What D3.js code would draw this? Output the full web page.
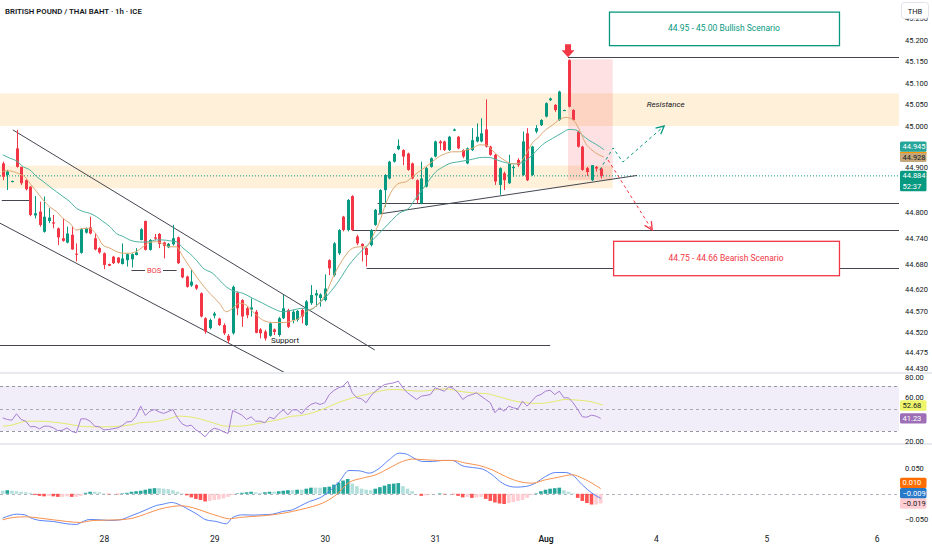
<!DOCTYPE html>
<html>
<head>
<meta charset="utf-8">
<script src="https://cdnjs.cloudflare.com/ajax/libs/d3/7.8.5/d3.min.js"></script>
<style>
body{margin:0;background:#fff}
svg{display:block;font-family:Roboto,"Noto Sans",sans-serif}
</style>
</head>
<body>
<div id="chart"></div>
<script>
// hourly candles, [open, high, low, close]
const candles = [
[44.913,44.917,44.874,44.882],[44.886,44.898,44.851,44.894],[44.871,44.873,44.869,44.872],[44.948,44.991,44.903,44.905],
[44.905,44.905,44.863,44.867],[44.874,44.876,44.850,44.853],[44.859,44.860,44.790,44.793],[44.792,44.837,44.785,44.797],
[44.801,44.824,44.766,44.770],[44.754,44.836,44.752,44.789],[44.779,44.809,44.774,44.787],[44.776,44.793,44.762,44.773],
[44.762,44.764,44.723,44.741],[44.739,44.785,44.731,44.733],[44.729,44.766,44.727,44.750],[44.747,44.766,44.712,44.713],
[44.703,44.727,44.685,44.701],[44.705,44.762,44.703,44.760],[44.752,44.764,44.750,44.762],[44.764,44.789,44.748,44.750],
[44.739,44.750,44.711,44.713],[44.716,44.718,44.703,44.706],[44.704,44.706,44.667,44.677],[44.679,44.680,44.674,44.675],
[44.696,44.698,44.679,44.681],[44.694,44.695,44.680,44.682],[44.679,44.727,44.678,44.692],[44.688,44.704,44.673,44.702],
[44.690,44.704,44.671,44.702],[44.700,44.716,44.699,44.706],[44.735,44.762,44.734,44.760],[44.779,44.780,44.711,44.712],
[44.712,44.737,44.710,44.735],[44.741,44.749,44.735,44.738],[44.749,44.751,44.716,44.726],[44.729,44.731,44.692,44.721],
[44.718,44.728,44.716,44.726],[44.725,44.770,44.722,44.739],[44.741,44.743,44.679,44.681],[44.669,44.670,44.646,44.648],
[44.650,44.652,44.624,44.626],[44.629,44.665,44.626,44.638],[44.630,44.632,44.619,44.622],[44.611,44.613,44.555,44.557],
[44.553,44.555,44.517,44.522],[44.530,44.552,44.527,44.549],[44.559,44.568,44.553,44.564],[44.552,44.554,44.535,44.537],
[44.537,44.541,44.514,44.518],[44.512,44.516,44.495,44.501],[44.518,44.629,44.515,44.626],[44.612,44.615,44.560,44.576],
[44.595,44.597,44.533,44.557],[44.576,44.580,44.553,44.560],[44.573,44.599,44.557,44.578],[44.568,44.572,44.518,44.519],
[44.527,44.530,44.506,44.518],[44.522,44.526,44.501,44.506],[44.512,44.543,44.510,44.541],[44.527,44.529,44.514,44.521],
[44.514,44.556,44.510,44.553],[44.553,44.607,44.551,44.576],[44.572,44.575,44.530,44.533],[44.549,44.572,44.541,44.568],
[44.549,44.572,44.545,44.570],[44.572,44.576,44.541,44.557],[44.537,44.595,44.535,44.592],[44.588,44.630,44.584,44.607],
[44.606,44.619,44.580,44.611],[44.600,44.611,44.580,44.608],[44.595,44.655,44.592,44.622],[44.688,44.690,44.653,44.669],
[44.653,44.730,44.650,44.727],[44.704,44.760,44.700,44.758],[44.789,44.791,44.755,44.758],[44.758,44.830,44.755,44.828],
[44.837,44.839,44.756,44.758],[44.743,44.747,44.723,44.727],[44.726,44.727,44.685,44.721],[44.716,44.718,44.673,44.700],
[44.723,44.760,44.720,44.758],[44.770,44.807,44.768,44.805],[44.797,44.853,44.795,44.851],[44.851,44.888,44.812,44.886],
[44.878,44.919,44.876,44.917],[44.917,44.937,44.915,44.935],[44.946,44.969,44.944,44.954],[44.944,44.946,44.909,44.929],
[44.936,44.938,44.896,44.898],[44.913,44.915,44.876,44.878],[44.874,44.876,44.820,44.828],[44.820,44.917,44.818,44.878],
[44.859,44.905,44.857,44.902],[44.905,44.927,44.903,44.925],[44.929,44.966,44.927,44.964],[44.964,44.967,44.944,44.960],
[44.964,44.966,44.942,44.944],[44.944,44.977,44.942,44.975],[44.989,44.994,44.988,44.992],[44.975,44.977,44.946,44.948],
[44.944,44.946,44.925,44.929],[44.913,44.950,44.911,44.948],[44.944,44.995,44.942,44.967],[44.964,45.006,44.962,44.975],
[44.964,45.018,44.962,44.983],[44.992,45.062,44.950,44.952],[44.952,44.954,44.931,44.933],[44.933,44.935,44.863,44.871],
[44.863,44.904,44.840,44.902],[44.890,44.894,44.851,44.874],[44.867,44.933,44.865,44.913],[44.902,44.909,44.882,44.905],
[44.921,44.925,44.905,44.909],[44.886,44.987,44.884,44.964],[44.983,44.995,44.872,44.874],[44.886,44.954,44.884,44.952],
[44.987,45.002,44.983,44.995],[45.002,45.016,45.000,45.014],[45.022,45.055,45.020,45.053],[45.060,45.066,45.058,45.064],
[45.049,45.051,45.033,45.037],[45.014,45.082,45.012,45.080],[45.036,45.038,45.035,45.037],[45.153,45.155,45.043,45.045],
[45.037,45.039,45.012,45.014],[44.987,44.989,44.950,44.952],[44.952,44.954,44.896,44.898],[44.902,44.905,44.884,44.893],
[44.874,44.909,44.872,44.909],[44.905,44.907,44.894,44.901],[44.901,44.903,44.878,44.884]
];

// moving averages, [bar, price]
const maFast = [[0,44.894],[0.8,44.896],[2.3,44.894],[3.7,44.888],[4.8,44.882],[5.9,44.867],[7.4,44.847],[8.8,44.828],[10.2,44.812],[11.7,44.801],[13.1,44.785],[14.6,44.774],[16,44.758],[17.5,44.762],[18.9,44.762],[20.4,44.747],[21.8,44.723],[23.3,44.716],[24.7,44.708],[26.2,44.704],[27.6,44.704],[29,44.708],[30.5,44.719],[31.9,44.729],[33.4,44.731],[34.8,44.726],[36.3,44.719],[37.7,44.719],[39.2,44.696],[40.6,44.673],[42.1,44.650],[43.5,44.630],[45,44.611],[47.1,44.588],[48.6,44.568],[50,44.576],[51.5,44.588],[52.9,44.584],[54.4,44.568],[56.5,44.549],[58.7,44.543],[60.9,44.543],[63,44.547],[64.5,44.553],[65.9,44.568],[67.4,44.576],[68.8,44.588],[70.3,44.611],[71.7,44.646],[73.2,44.677],[74.6,44.700],[76.1,44.716],[77.5,44.719],[79,44.719],[80.4,44.743],[81.8,44.774],[83.3,44.820],[84.7,44.851],[86.2,44.867],[87.6,44.870],[89.1,44.882],[90.5,44.894],[92,44.905],[93.4,44.917],[94.9,44.929],[96.3,44.936],[97.8,44.940],[99.2,44.940],[100.7,44.944],[102.1,44.948],[103.6,44.956],[105,44.956],[106.4,44.944],[107.9,44.929],[109.3,44.919],[110.8,44.912],[112.2,44.913],[113.7,44.933],[115.1,44.960],[116.6,44.975],[118,44.991],[119.5,45.002],[120.9,45.014],[122.4,45.020],[123.8,45.016],[125.2,44.995],[126.7,44.960],[128.1,44.944],[129.6,44.933],[130.7,44.928]];
const maSlow = [[0,44.933],[1.6,44.925],[3,44.919],[4.5,44.905],[5.9,44.898],[7.4,44.882],[8.8,44.871],[10.2,44.859],[11.7,44.847],[13.1,44.836],[14.6,44.824],[16,44.809],[17.5,44.801],[18.9,44.797],[20.4,44.789],[21.8,44.778],[23.3,44.766],[24.7,44.750],[26.2,44.743],[27.6,44.735],[29,44.731],[30.5,44.730],[31.9,44.731],[33.4,44.735],[34.8,44.735],[36.3,44.733],[37.7,44.731],[39.2,44.716],[40.6,44.704],[42.1,44.688],[43.5,44.670],[45.7,44.657],[47.1,44.642],[48.6,44.626],[50,44.617],[52.2,44.611],[54.4,44.599],[56.5,44.588],[58.7,44.576],[60.9,44.568],[63,44.572],[65.2,44.576],[66.7,44.572],[68.8,44.588],[71,44.611],[73.2,44.642],[75.3,44.677],[77.5,44.704],[79.7,44.727],[81.8,44.750],[84,44.774],[86.2,44.797],[88.4,44.810],[89.8,44.832],[91.3,44.853],[92.7,44.874],[94.2,44.894],[95.6,44.904],[97,44.912],[99.2,44.917],[101.4,44.921],[104.3,44.927],[105.7,44.927],[107.2,44.922],[108.6,44.917],[110.1,44.913],[111.5,44.912],[113,44.915],[114.4,44.925],[115.8,44.940],[117.3,44.956],[119.5,44.971],[121.6,44.984],[123.1,44.992],[124.5,44.991],[126,44.979],[127.4,44.967],[128.9,44.958],[130.7,44.945]];

// RSI pane
const rsiLine = [[0,41.7],[1,40.2],[2,39.6],[3,45.3],[4,40.2],[5,38.7],[6,33.7],[7,34.0],[8,31.9],[9,34.3],[10,34.3],[11,32.8],[12,30.2],[13,30.7],[14,32.8],[15,29.6],[16,28.4],[17,40.8],[18,40.8],[19,38.7],[20,34.3],[21,33.7],[22,31.0],[23,31.3],[25,32.8],[26,34.9],[27,38.1],[28,38.4],[29,43.2],[30,52.1],[31,43.8],[32,47.6],[33,49.1],[34,47.0],[35,45.6],[37,49.1],[38,41.7],[39,36.4],[40,34.3],[41,35.2],[42,31.0],[43,28.4],[44,24.8],[45,29.9],[46,32.5],[47,31.3],[48,29.3],[49,27.8],[50,48.2],[51,46.2],[52,44.1],[53,40.2],[54,42.6],[55,38.7],[56,38.7],[57,37.3],[58,42.3],[59,40.8],[60,45.6],[61,48.8],[62,44.4],[63,48.8],[64,48.8],[65,45.3],[66,50.5],[67,53.6],[68,55.1],[69,53.6],[70,55.1],[71,62.4],[72,66.0],[73,68.4],[74,69.9],[75,74.3],[76,63.9],[77,59.5],[78,58.6],[79,55.1],[80,61.0],[81,65.4],[82,68.4],[83,71.3],[85,72.8],[86,74.3],[87,68.4],[88,63.9],[90,58.0],[91,61.0],[93,62.4],[94,68.4],[95,66.9],[96,65.4],[97,69.3],[98,67.8],[99,63.9],[100,58.0],[101,61.0],[102,62.4],[103,63.9],[105,58.0],[106,55.1],[107,46.2],[108,50.6],[109,47.6],[110,52.1],[111,50.6],[112,49.7],[113,56.5],[114,52.1],[115,56.5],[116,61.0],[117,62.4],[118,65.4],[119,66.3],[120,62.4],[121,65.4],[122,59.5],[123,59.5],[124,55.1],[125,49.1],[126,42.6],[127,42.3],[128,44.1],[129,43.2],[130,41.2]];
const rsiMa = [[0,34.3],[1.6,34.9],[3.7,37.3],[5.2,38.7],[8.1,38.7],[11,37.9],[13.9,36.4],[16.8,34.3],[19.6,33.7],[22.5,33.7],[25.4,34.3],[28.3,35.8],[29.8,37.3],[32.7,38.1],[35.6,40.2],[38.4,43.2],[40.6,42.6],[42.8,40.8],[45.7,37.3],[48.6,34.3],[51.5,34.3],[54.4,35.8],[57.2,37.9],[60.1,40.2],[63,43.2],[64.5,43.6],[67.4,46.2],[70.3,50.6],[73.2,55.6],[76.1,59.5],[79,62.4],[81.9,65.4],[84.7,66.9],[87.6,66.3],[90.5,65.4],[93.4,66.3],[96.3,67.5],[99.2,65.4],[102.1,63.9],[105,63.3],[107.9,60.4],[110.8,57.1],[113.7,55.1],[116.6,54.5],[119.5,55.9],[122.3,58.0],[125.2,57.4],[128.1,55.9],[130.4,53.0]];

// MACD pane
const macdLine = [[0,-0.0477],[1.6,-0.0425],[3,-0.0399],[4.8,-0.0412],[5.9,-0.0464],[8.1,-0.0523],[11,-0.0542],[13.9,-0.0588],[16,-0.0601],[17.5,-0.0542],[18.9,-0.0503],[21.1,-0.0510],[23.3,-0.0523],[25.5,-0.0510],[27.6,-0.0444],[29.8,-0.0366],[32,-0.0281],[33.4,-0.0229],[34.9,-0.0203],[36.7,-0.0170],[38.5,-0.0216],[39.9,-0.0281],[42.1,-0.0392],[44.2,-0.0510],[46.4,-0.0542],[48.6,-0.0588],[50,-0.0464],[52.2,-0.0412],[54.4,-0.0418],[56.5,-0.0412],[58.7,-0.0399],[60.9,-0.0346],[63,-0.0314],[64.5,-0.0248],[66.7,-0.0150],[68.8,-0.0085],[71,0.0046],[73.2,0.0242],[75.3,0.0458],[77.5,0.0451],[79.7,0.0405],[81.9,0.0503],[84,0.0667],[86.2,0.0797],[87.6,0.0784],[89.4,0.0699],[91.3,0.0634],[93.4,0.0634],[95.6,0.0654],[97.8,0.0654],[99.9,0.0549],[102.1,0.0516],[104.3,0.0484],[106.4,0.0373],[108.6,0.0209],[111.5,0.0131],[113.7,0.0144],[115.8,0.0209],[118,0.0340],[120.2,0.0418],[122.3,0.0418],[123.8,0.0373],[126,0.0176],[128.1,0.0013],[130,-0.0090]];
const signalLine = [[0,-0.0510],[2.3,-0.0464],[5.2,-0.0451],[8.1,-0.0477],[11,-0.0510],[13.9,-0.0542],[16.8,-0.0562],[19.7,-0.0523],[22.6,-0.0516],[25.5,-0.0510],[28.3,-0.0477],[31.2,-0.0392],[34.1,-0.0301],[37,-0.0248],[38.8,-0.0235],[41.4,-0.0275],[44.2,-0.0359],[47.1,-0.0444],[49.3,-0.0490],[51.5,-0.0464],[54.4,-0.0444],[57.3,-0.0425],[60.2,-0.0392],[63,-0.0346],[64.5,-0.0314],[67.4,-0.0248],[70.3,-0.0150],[72.5,-0.0020],[75.3,0.0222],[78.2,0.0307],[81.1,0.0373],[84,0.0503],[86.9,0.0634],[89.1,0.0680],[92,0.0667],[94.9,0.0654],[97.8,0.0654],[100.7,0.0601],[103.5,0.0556],[106.4,0.0471],[109.3,0.0340],[112.2,0.0242],[115.1,0.0209],[118,0.0275],[120.9,0.0327],[123.8,0.0373],[126,0.0307],[128.1,0.0209],[130,0.0100]];
const macdHist = [
0.006,0.007,0.006,0.005,0.004,0.003,0.002,
-0.002,-0.004,-0.005,-0.004,-0.005,-0.006,-0.006,-0.005,-0.006,-0.006,-0.004,
0.002,0.004,0.004,0.003,
0.001,-0.001,0.000,-0.001,
0.001,0.002,0.004,0.005,0.006,
0.008,0.010,0.011,0.011,0.010,0.009,0.007,
0.004,0.001,-0.003,
-0.007,-0.010,-0.012,-0.015,
-0.014,-0.012,-0.011,-0.009,-0.006,
-0.002,0.001,0.002,
0.003,0.004,0.003,0.002,0.003,0.004,0.004,
0.005,0.006,0.007,0.007,0.008,0.008,
0.010,0.012,0.012,0.012,0.013,0.014,
0.018,0.022,0.026,0.029,
0.020,0.015,0.010,0.008,0.007,
0.010,0.013,0.016,0.019,0.020,0.021,
0.015,0.010,0.005,0.000,
-0.004,-0.003,-0.001,0.000,0.001,-0.001,0.000,-0.001,
-0.004,-0.007,
-0.006,-0.008,-0.007,-0.006,
-0.010,-0.014,-0.017,-0.019,-0.020,
-0.018,-0.016,-0.014,-0.012,-0.008,
-0.002,0.001,
0.005,0.008,0.010,0.011,0.012,
0.007,0.004,0.001,
-0.008,-0.014,-0.018,-0.021,-0.021,-0.019
];

// axes
const dayIdx = [22,46,70,94,118,142,166,190];
const dayLabels = ["28","29","30","31","Aug","4","5","6"];
const priceTicks = [45.25,45.2,45.15,45.1,45.05,45.0,44.9,44.8,44.74,44.68,44.62,44.57,44.52,44.475,44.43];
const rsiTicks = [80,60,20];
const rsiBands = [70,50,30];
const macdTicks = [0.05,-0.05];

// drawings, in bars and prices
const zones = [[45.000,45.076,-1,200],[44.855,44.908,-1,132.6]];
const shortBox = [122.9,132.6,44.874,45.155];
const levels = [[45.160,122.9,200],[44.822,81.5,200],[44.758,76.1,200],[44.669,79.1,200],[44.828,-0.2,6.1],[44.491,-1,119]];
const channel = [[[2.2,44.991],[80.9,44.479]],[[-0.6,44.774],[61.4,44.426]]];
const trendLine = [[81.6,44.795],[137.9,44.885]];
const bosLine = [28.0,37.8,44.664];
const bullPath = [[129.8,44.898],[132.7,44.949],[134.8,44.916],[143.8,45.000]];
const bearPath = [[131.6,44.921],[141.2,44.758]];
const scenarios = [
  {text:"44.95 - 45.00 Bullish Scenario", x0:131.8, x1:181.8, top:45.266, bottom:45.188, color:"#089981"},
  {text:"44.75 - 44.66 Bearish Scenario", x0:132.7, x1:181.8, top:44.733, bottom:44.653, color:"#f23645"}
];
const lastPrice = 44.884, lastTimer = "52:37";
const maLast = [44.945, 44.928];
const rsiLast = [52.68, 41.23];
const macdLast = [0.010, -0.009, -0.019];

const up = "#089981", down = "#f23645";
const plotR = 899;

const svg = d3.select("#chart").append("svg").attr("width",932).attr("height",550);
const defs = svg.append("defs");
function clip(id, x0, y0, w, h){
  defs.append("clipPath").attr("id",id).append("rect").attr("x",x0).attr("y",y0).attr("width",w).attr("height",h);
}
clip("cMain",0,0,plotR,372); clip("cRsi",0,374,plotR,70); clip("cMacd",0,445,plotR,85);
clip("cRsiAx",899,372,33,72);
defs.append("marker").attr("id","arrG").attr("viewBox","0 0 10 10").attr("refX",9).attr("refY",5)
  .attr("markerWidth",10).attr("markerHeight",10).attr("markerUnits","userSpaceOnUse").attr("orient","auto")
  .append("path").attr("d","M1,1 L9,5 L1,9").attr("fill","none").attr("stroke","#089981").attr("stroke-width",1.3);
defs.append("marker").attr("id","arrR").attr("viewBox","0 0 10 10").attr("refX",9).attr("refY",5)
  .attr("markerWidth",10).attr("markerHeight",10).attr("markerUnits","userSpaceOnUse").attr("orient","auto")
  .append("path").attr("d","M1,1 L9,5 L1,9").attr("fill","none").attr("stroke","#f23645").attr("stroke-width",1.3);

const x = d3.scaleLinear().domain([0,190]).range([2.7,876.7]);
const y = d3.scaleLinear().domain([44.43,45.2]).range([371.1,40]);
const yR = d3.scaleLinear().domain([30,70]).range([431,386]);
const yM = d3.scaleLinear().domain([-0.05,0.05]).range([519.3,468.3]);
const xc = v => Math.min(plotR, x(v));

// ---------- main pane
const main = svg.append("g").attr("clip-path","url(#cMain)");

main.selectAll(".zone").data(zones).join("rect")
  .attr("x",d=>Math.max(0,x(d[2]))).attr("width",d=>xc(d[3])-Math.max(0,x(d[2])))
  .attr("y",d=>y(d[1])).attr("height",d=>y(d[0])-y(d[1]))
  .attr("fill","rgba(255,152,0,0.15)");

main.append("rect")
  .attr("x",x(shortBox[0])).attr("width",x(shortBox[1])-x(shortBox[0]))
  .attr("y",y(shortBox[3])).attr("height",y(shortBox[2])-y(shortBox[3]))
  .attr("fill","rgba(242,54,69,0.15)");

// last price dotted line
main.append("line").attr("x1",0).attr("x2",plotR).attr("y1",y(lastPrice)).attr("y2",y(lastPrice))
  .attr("stroke","#089981").attr("stroke-width",1).attr("stroke-dasharray","1,2");

const lineG = main.append("g").attr("stroke","#434651").attr("stroke-width",1).attr("fill","none");
lineG.selectAll(".lvl").data(levels).join("line")
  .attr("x1",d=>Math.max(0,x(d[1]))).attr("x2",d=>xc(d[2]))
  .attr("y1",d=>Math.round(y(d[0]))+0.5).attr("y2",d=>Math.round(y(d[0]))+0.5);
lineG.selectAll(".ch").data(channel.concat([trendLine])).join("line")
  .attr("x1",d=>x(d[0][0])).attr("y1",d=>y(d[0][1])).attr("x2",d=>x(d[1][0])).attr("y2",d=>y(d[1][1]));

// BOS marker
const bosY = Math.round(y(bosLine[2]))+0.5, bosMid = (x(bosLine[0])+x(bosLine[1]))/2;
lineG.append("line").attr("x1",x(bosLine[0])).attr("x2",bosMid-9).attr("y1",bosY).attr("y2",bosY);
lineG.append("line").attr("x1",bosMid+9).attr("x2",x(bosLine[1])).attr("y1",bosY).attr("y2",bosY);
main.append("text").attr("x",bosMid).attr("y",bosY+2.8).attr("text-anchor","middle")
  .attr("font-size",7.5).attr("fill","#f23645").text("BOS");

// candles
const cg = main.append("g");
cg.selectAll(".wick").data(candles).join("line")
  .attr("x1",(d,i)=>Math.round(x(i))+0.5).attr("x2",(d,i)=>Math.round(x(i))+0.5)
  .attr("y1",d=>y(d[1])).attr("y2",d=>y(d[2]))
  .attr("stroke",d=>d[3]>=d[0]?up:down).attr("stroke-width",1);
cg.selectAll(".body").data(candles).join("rect")
  .attr("x",(d,i)=>Math.round(x(i))-1).attr("width",3)
  .attr("y",d=>y(Math.max(d[0],d[3])))
  .attr("height",d=>Math.max(1,Math.abs(y(d[0])-y(d[3]))))
  .attr("fill",d=>d[3]>=d[0]?up:down);

// moving averages
const line = d3.line().x(d=>x(d[0])).y(d=>y(d[1])).curve(d3.curveMonotoneX);
main.append("path").datum(maSlow).attr("d",line).attr("fill","none").attr("stroke","#4db3a2").attr("stroke-width",1);
main.append("path").datum(maFast).attr("d",line).attr("fill","none").attr("stroke","#dca872").attr("stroke-width",1);

// scenario arrows
const pl = d3.line().x(d=>x(d[0])).y(d=>y(d[1]));
main.append("path").datum(bullPath).attr("d",pl).attr("fill","none").attr("stroke","#089981")
  .attr("stroke-width",1).attr("stroke-dasharray","3,3").attr("marker-end","url(#arrG)");
main.append("path").datum(bearPath).attr("d",pl).attr("fill","none").attr("stroke","#f23645")
  .attr("stroke-width",1).attr("stroke-dasharray","3,3").attr("marker-end","url(#arrR)");

// red down arrow over the spike
const ax = x(shortBox[0]), ay = y(levels[0][0]);
main.append("path").attr("fill","#f23645")
  .attr("d",`M${ax-3},${ay-13} L${ax+3},${ay-13} L${ax+3},${ay-7} L${ax+6.5},${ay-7} L${ax},${ay} L${ax-6.5},${ay-7} L${ax-3},${ay-7} Z`);

// scenario boxes
scenarios.forEach(s=>{
  main.append("rect").attr("x",x(s.x0)+0.5).attr("y",y(s.top)+0.5)
    .attr("width",x(s.x1)-x(s.x0)).attr("height",y(s.bottom)-y(s.top))
    .attr("fill","#fff").attr("stroke",s.color).attr("stroke-width",1.3);
  main.append("text").attr("x",(x(s.x0)+x(s.x1))/2).attr("y",(y(s.top)+y(s.bottom))/2+3)
    .attr("text-anchor","middle").attr("font-size",8.5).attr("fill",s.color).text(s.text);
});

main.append("text").attr("x",x(140)).attr("y",y(45.051)+3).attr("font-size",8)
  .attr("font-style","italic").attr("fill","#131722").text("Resistance");
main.append("text").attr("x",x(58.3)).attr("y",y(44.502)+3).attr("font-size",8)
  .attr("fill","#131722").text("Support");

// ---------- RSI pane
const rsiG = svg.append("g").attr("clip-path","url(#cRsi)");
rsiG.append("rect").attr("x",0).attr("width",plotR).attr("y",yR(70)).attr("height",yR(30)-yR(70))
  .attr("fill","rgba(126,87,194,0.1)");
rsiG.selectAll(".band").data(rsiBands).join("line")
  .attr("x1",0).attr("x2",plotR).attr("y1",d=>Math.round(yR(d))+0.5).attr("y2",d=>Math.round(yR(d))+0.5)
  .attr("stroke",d=>d===50?"rgba(120,123,134,0.6)":"#9598a1").attr("stroke-dasharray","3,3");
rsiG.append("path").datum(rsiMa).attr("d",d3.line().x(d=>x(d[0])).y(d=>yR(d[1])).curve(d3.curveMonotoneX))
  .attr("fill","none").attr("stroke","#e3ea6c").attr("stroke-width",1);
rsiG.append("path").datum(rsiLine).attr("d",d3.line().x(d=>x(d[0])).y(d=>yR(d[1])))
  .attr("fill","none").attr("stroke","#a77fd3").attr("stroke-width",1);

// ---------- MACD pane
const macdG = svg.append("g").attr("clip-path","url(#cMacd)");
macdG.append("line").attr("x1",0).attr("x2",plotR).attr("y1",Math.round(yM(0))+0.5).attr("y2",Math.round(yM(0))+0.5)
  .attr("stroke","#b2b5be").attr("stroke-dasharray","3,3");
macdG.selectAll(".hist").data(macdHist).join("rect")
  .attr("x",(d,i)=>x(i)-1.8).attr("width",3.6)
  .attr("y",d=>Math.min(yM(d),yM(0))).attr("height",d=>Math.abs(yM(d)-yM(0)))
  .attr("fill",(d,i)=>{
    const p = i>0?macdHist[i-1]:d;
    if(d>=0) return d>p?"#26a69a":"#b2dfdb";
    return d<p?"#ff5252":"#ffcdd2";
  });
const ml = d3.line().x(d=>x(d[0])).y(d=>yM(d[1])).curve(d3.curveMonotoneX);
macdG.append("path").datum(macdLine).attr("d",ml).attr("fill","none").attr("stroke","#5a84f6").attr("stroke-width",1);
macdG.append("path").datum(signalLine).attr("d",ml).attr("fill","none").attr("stroke","#f8914f").attr("stroke-width",1);

// pane separators
svg.selectAll(".sep").data([373,444]).join("line")
  .attr("x1",0).attr("x2",932).attr("y1",d=>d).attr("y2",d=>d)
  .attr("stroke","#e0e3eb").attr("stroke-width",1.5);

// ---------- axes
function styleAxis(g){
  g.select(".domain").remove();
  g.selectAll("text").attr("fill","#131722").attr("font-size",7.5).attr("font-family","Roboto, sans-serif");
}
const pAx = svg.append("g").attr("transform","translate(903,0)")
  .call(d3.axisRight(y).tickValues(priceTicks).tickSize(0).tickPadding(2).tickFormat(d3.format(".3f")))
  .call(styleAxis);
// labels that sit next to a tag or a pane border are nudged apart
pAx.selectAll(".tick").filter(d=>d===44.43).select("text").attr("dy","-0.05em");
pAx.selectAll(".tick").filter(d=>d===44.9).select("text").attr("dy","0.02em");
const rAx = svg.append("g").attr("clip-path","url(#cRsiAx)").append("g").attr("transform","translate(903,0)")
  .call(d3.axisRight(yR).tickValues(rsiTicks).tickSize(0).tickPadding(2).tickFormat(d3.format(".2f")))
  .call(styleAxis);
rAx.selectAll(".tick").filter(d=>d===80).select("text").attr("dy","0.62em");
rAx.selectAll(".tick").filter(d=>d===20).select("text").attr("dy","0.1em");
svg.append("g").attr("transform","translate(903,0)")
  .call(d3.axisRight(yM).tickValues(macdTicks).tickSize(0).tickPadding(2).tickFormat(d3.format(".3f")))
  .call(styleAxis);
svg.append("g").attr("transform","translate(0,533)")
  .call(d3.axisBottom(x).tickValues(dayIdx).tickSize(0).tickPadding(3).tickFormat((d,i)=>dayLabels[i]))
  .call(styleAxis)
  .selectAll("text").attr("font-size",8.5).attr("font-weight",(d,i)=>dayLabels[i]==="Aug"?600:400);

// value tags on the right, stacked upward when they would collide
function tags(items){
  let limit = Infinity;
  items.sort((a,b)=>b.y-a.y).forEach(t=>{
    const h = 10.3*t.lines.length;
    let top = t.y-5.15;
    if(top+h>limit) top = limit-h;
    limit = top;
    const g = svg.append("g");
    g.append("rect").attr("x",900).attr("y",top).attr("width",26.5).attr("height",h).attr("rx",1.5)
      .attr("fill",t.bg);
    t.lines.forEach((s,k)=>g.append("text").attr("x",902.5).attr("y",top+7.7+k*10.3)
      .attr("font-size",7.5).attr("fill",t.fg).text(s));
    if(t.bar) g.append("rect").attr("x",900).attr("y",top).attr("width",26.5).attr("height",1.2).attr("fill",t.bar);
  });
}
const f3 = d3.format(".3f");
tags([
  {y:y(lastPrice), lines:[f3(lastPrice), lastTimer], bg:"#089981", fg:"#fff"},
  {y:y(maLast[1]), lines:[f3(maLast[1])], bg:"#c4a77a", fg:"#131722", bar:"#ff9800"},
  {y:y(maLast[0]), lines:[f3(maLast[0])], bg:"#26a69a", fg:"#fff"}
]);
tags([
  {y:yR(rsiLast[1]), lines:[d3.format(".2f")(rsiLast[1])], bg:"#9c6fb6", fg:"#fff"},
  {y:yR(rsiLast[0]), lines:[d3.format(".2f")(rsiLast[0])], bg:"#eef56a", fg:"#131722"}
]);
tags([
  {y:yM(macdLast[2]), lines:[f3(macdLast[2])], bg:"#ffcdd2", fg:"#131722"},
  {y:yM(macdLast[1]), lines:[f3(macdLast[1])], bg:"#2979c9", fg:"#fff"},
  {y:yM(macdLast[0]), lines:[f3(macdLast[0])], bg:"#ff6d00", fg:"#fff"}
]);

// currency box and title
svg.append("rect").attr("x",901.5).attr("y",2.5).attr("width",27).attr("height",16).attr("rx",3)
  .attr("fill","#fff").attr("stroke","#e0e3eb");
svg.append("text").attr("x",915).attr("y",13.5).attr("text-anchor","middle").attr("font-size",7.5)
  .attr("fill","#131722").text("THB");
svg.append("text").attr("x",5).attr("y",13.5).attr("font-size",7.8).attr("font-weight",600)
  .attr("fill","#131722").text("BRITISH POUND / THAI BAHT · 1h · ICE");
</script>
</body>
</html>
